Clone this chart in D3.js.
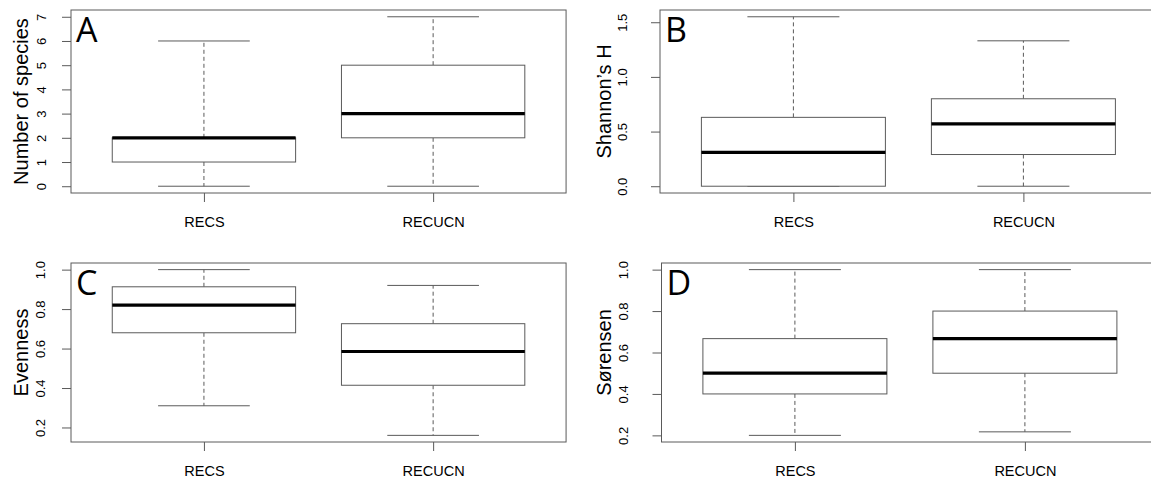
<!DOCTYPE html>
<html>
<head>
<meta charset="utf-8">
<script src="https://cdn.jsdelivr.net/npm/d3@7"></script>
<style>
  html, body { margin: 0; padding: 0; background: #fff; }
  svg { display: block; }
</style>
</head>
<body>
<svg id="chart" width="1151" height="480"></svg>
<script>
// ---- data: five-number summaries [min, q1, median, q3, max] ----
const categories = ["RECS", "RECUCN"];
const speciesRECS = [0, 1, 2, 2, 6];
const speciesRECUCN = [0, 2, 3, 5, 7];
const shannonRECS = [0, 0, 0.31, 0.63, 1.55];
const shannonRECUCN = [0, 0.29, 0.57, 0.80, 1.33];
const evennessRECS = [0.31, 0.68, 0.82, 0.913, 1.0];
const evennessRECUCN = [0.16, 0.414, 0.585, 0.726, 0.92];
const sorensenRECS = [0.2, 0.4, 0.5, 0.667, 1.0];
const sorensenRECUCN = [0.217, 0.5, 0.667, 0.8, 1.0];

// ---- tick labels ----
const ticksSpecies = [0, 1, 2, 3, 4, 5, 6, 7];
const ticksShannon = [0, 0.5, 1.0, 1.5];
const ticksEvenness = [0.2, 0.4, 0.6, 0.8, 1.0];
const ticksSorensen = [0.2, 0.4, 0.6, 0.8, 1.0];

const titles = ["Number of species", "Shannon\u2019s H", "Evenness", "S\u00f8rensen"];
const letters = ["A", "B", "C", "D"];

// ---- layout ----
const panels = [
  { series: [speciesRECS, speciesRECUCN], ticks: ticksSpecies, fmt: d3.format("d"),
    x0: 71, y0: 10, y1: 193, labOff: 30, titOff: 50 },
  { series: [shannonRECS, shannonRECUCN], ticks: ticksShannon, fmt: d3.format(".1f"),
    x0: 660, y0: 10, y1: 193, labOff: 37.5, titOff: 56 },
  { series: [evennessRECS, evennessRECUCN], ticks: ticksEvenness, fmt: d3.format(".1f"),
    x0: 71, y0: 263, y1: 442, labOff: 31, titOff: 50 },
  { series: [sorensenRECS, sorensenRECUCN], ticks: ticksSorensen, fmt: d3.format(".1f"),
    x0: 661.5, y0: 263, y1: 442, labOff: 38, titOff: 57.5 }
];

const lineCol = "#5a5a5a";
const svg = d3.select("#chart");

panels.forEach((p, i) => {
  const unit = i % 2 === 0 ? 229.2 : 230;
  const x = d3.scaleLinear().domain([0.42, 2.58]).range([p.x0, p.x0 + 2.16 * unit]);
  const all = p.series.flat();
  const lo = d3.min(all), hi = d3.max(all);
  const pad = (hi - lo) * 0.04;
  const y = d3.scaleLinear().domain([lo - pad, hi + pad]).range([p.y1, p.y0]);

  const g = svg.append("g");

  // y axis
  const ya = g.append("g").attr("transform", `translate(${p.x0},0)`)
    .call(d3.axisLeft(y).tickValues(p.ticks).tickSize(9).tickFormat(p.fmt));
  ya.select(".domain").remove();
  ya.selectAll(".tick line").attr("stroke", lineCol);
  ya.selectAll(".tick text")
    .attr("x", null).attr("dy", "0.35em")
    .attr("transform", `translate(${-p.labOff},0) rotate(-90)`)
    .attr("text-anchor", "middle")
    .attr("fill", "#000")
    .style("font-family", "'Liberation Sans', Arial, sans-serif")
    .style("font-size", "13px");

  // x axis
  const xa = g.append("g").attr("transform", `translate(0,${p.y1})`)
    .call(d3.axisBottom(x).tickValues([1, 2]).tickSize(9).tickFormat((d) => categories[d - 1]));
  xa.select(".domain").remove();
  xa.selectAll(".tick line").attr("stroke", lineCol);
  xa.selectAll(".tick text")
    .attr("y", 34).attr("dy", null)
    .attr("fill", "#000")
    .style("font-family", "'Liberation Sans', Arial, sans-serif")
    .style("font-size", "14.5px");

  // y title
  g.append("text")
    .attr("transform", `translate(${p.x0 - p.titOff},${(p.y0 + p.y1) / 2}) rotate(-90)`)
    .attr("dy", "0.35em")
    .attr("text-anchor", "middle")
    .style("font-family", "'Liberation Sans', Arial, sans-serif")
    .style("font-size", "20px")
    .text(titles[i]);

  // boxes
  p.series.forEach((s, k) => {
    const c = x(k + 1);
    const hw = x(k + 1 + 0.4) - c;
    const cw = x(k + 1 + 0.2) - c;
    const [mn, q1, md, q3, mx] = s;
    // whiskers
    g.append("line").attr("x1", c).attr("x2", c).attr("y1", y(q3)).attr("y2", y(mx))
      .attr("stroke", lineCol).attr("stroke-dasharray", "4,3");
    g.append("line").attr("x1", c).attr("x2", c).attr("y1", y(q1)).attr("y2", y(mn))
      .attr("stroke", lineCol).attr("stroke-dasharray", "4,3");
    // caps
    [mn, mx].forEach((v) => {
      g.append("line").attr("x1", c - cw).attr("x2", c + cw).attr("y1", y(v)).attr("y2", y(v))
        .attr("stroke", lineCol);
    });
    // box
    g.append("rect").attr("x", c - hw).attr("width", 2 * hw)
      .attr("y", y(q3)).attr("height", y(q1) - y(q3))
      .attr("fill", "#fff").attr("stroke", lineCol);
    // median
    g.append("line").attr("x1", c - hw).attr("x2", c + hw).attr("y1", y(md)).attr("y2", y(md))
      .attr("stroke", "#000").attr("stroke-width", 3.2);
  });

  // frame
  g.append("rect").attr("x", p.x0).attr("y", p.y0)
    .attr("width", x.range()[1] - p.x0).attr("height", p.y1 - p.y0)
    .attr("fill", "none").attr("stroke", lineCol);

  // panel letter
  g.append("text")
    .attr("x", p.x0 + 5).attr("y", p.y0 + 31.5)
    .style("font-family", "'Open Sans', sans-serif")
    .style("font-size", "34px")
    .text(letters[i]);
});
</script>
</body>
</html>
